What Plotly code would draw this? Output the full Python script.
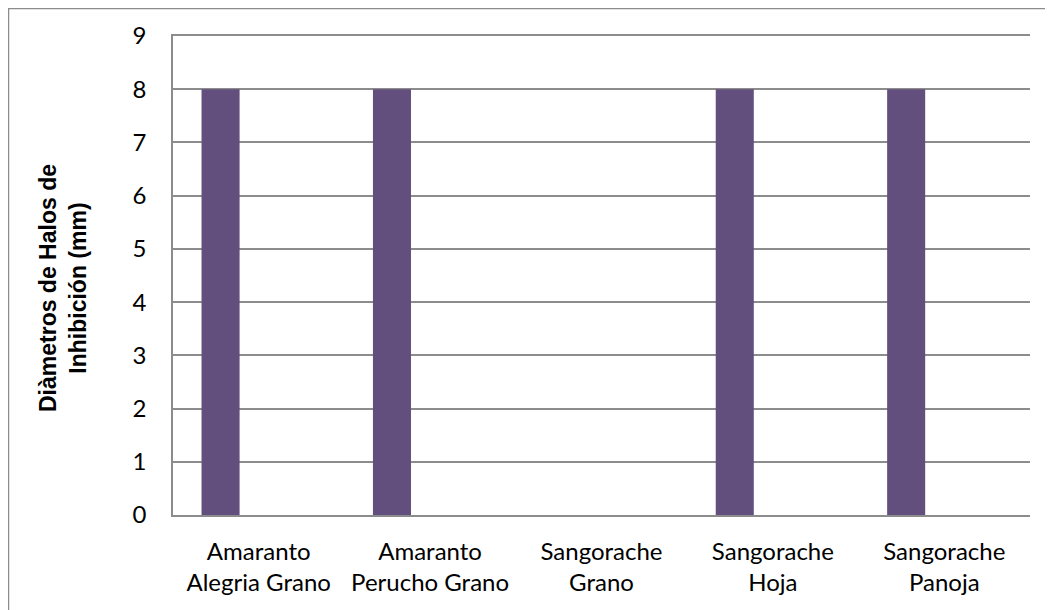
import plotly.graph_objects as go

categories = ["Amaranto<br>Alegria Grano", "Amaranto<br>Perucho Grano", "Sangorache<br>Grano",
              "Sangorache<br>Hoja", "Sangorache<br>Panoja"]
values = [8, 8, 0, 8, 8]
y_ticks = list(range(0, 10))
y_title = "Diàmetros de Halos de<br>Inhibición (mm)"

# page has an 8px body margin; figure coordinates are page - 8
W, H = 1045, 602
L, R, T, B = 165, 23, 28, 95
pw, ph = W - L - R, H - T - B

fig = go.Figure()
fig.add_trace(go.Bar(
    x=categories, y=values,
    width=0.222, offset=-0.3335,
    marker=dict(color="#634F7E", line=dict(width=0)),
))

grid = "#8C8C8C"
fig.update_layout(
    width=W, height=H,
    margin=dict(l=L, r=R, t=T, b=B),
    paper_bgcolor="white", plot_bgcolor="white",
    showlegend=False,
    font=dict(family="Lato", size=24, color="black"),
    xaxis=dict(
        showgrid=False, showline=True, linecolor=grid, linewidth=1.5, mirror=True,
        ticks="", ticklabelstandoff=14, tickfont=dict(family="Lato", size=24),
        fixedrange=True,
    ),
    yaxis=dict(
        range=[0, 9], tickvals=y_ticks, showgrid=True, gridcolor=grid, gridwidth=1.5,
        showline=True, linecolor=grid, linewidth=1.5, zeroline=False,
        ticks="", ticklabelstandoff=20, tickfont=dict(family="Lato", size=24),
        fixedrange=True,
    ),
    annotations=[dict(
        text=y_title, xref="paper", yref="paper",
        x=(55 - L) / pw, y=(T + ph - 280) / ph, xanchor="center", yanchor="middle",
        textangle=-90, showarrow=False,
        font=dict(family="Liberation Sans", size=23, color="black", weight="bold"),
    )],
    shapes=[dict(
        type="rect", xref="paper", yref="paper",
        x0=(0.5 - L) / pw, x1=(W + 20 - L) / pw,
        y0=-(B + 20) / ph, y1=1 + (T - 0.5) / ph,
        line=dict(color=grid, width=1.5), fillcolor="rgba(0,0,0,0)", layer="below",
    )],
)

fig.write_html("out.html")
